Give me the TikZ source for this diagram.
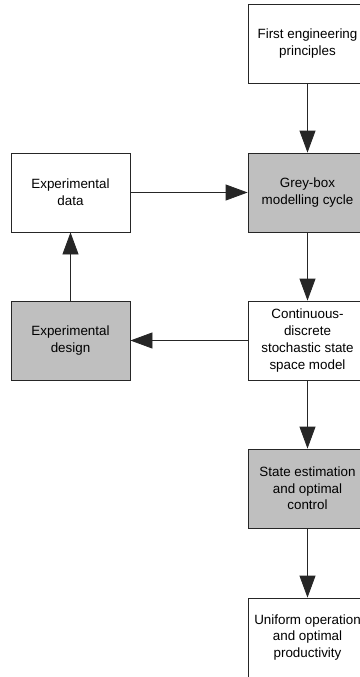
\documentclass[tikz,border=0pt]{standalone}
\usepackage{fontspec}
\setmainfont{Liberation Sans}
\usetikzlibrary{arrows.meta}
\begin{document}
\begin{tikzpicture}[x=1pt,y=1pt,
  box/.style={draw=black!85, line width=0.8pt, minimum width=119pt, minimum height=79pt,
    inner sep=0pt, align=center, font=\fontsize{13.4}{16.7}\selectfont, fill=white},
  greybox/.style={box, fill=black!25},
  arr/.style={draw=black!85, line width=0.8pt, -{Triangle[length=22pt,width=16pt]}}]
\useasboundingbox (0,0) rectangle (359,-677);
\node[box] (first) at (307.5,-43.5) {First engineering\\principles};
\node[greybox] (grey) at (307.5,-192.5) {Grey-box\\modelling cycle};
\node[box] (cont) at (307.5,-340.5) {Continuous-\\discrete\\stochastic state\\space model};
\node[greybox] (state) at (307.5,-488.5) {State estimation\\and optimal\\control};
\node[box] (unif) at (307.5,-637.5) {Uniform operation\\and optimal\\productivity};
\node[box] (data) at (70.5,-192.5) {Experimental\\data};
\node[greybox] (design) at (70.5,-340.5) {Experimental\\design};
\draw[arr] (first) -- (grey);
\draw[arr] (grey) -- (cont);
\draw[arr] (cont) -- (state);
\draw[arr] (state) -- (unif);
\draw[arr] (data) -- (grey);
\draw[arr] (design) -- (data);
\draw[arr] (cont) -- (design);
\end{tikzpicture}
\end{document}
